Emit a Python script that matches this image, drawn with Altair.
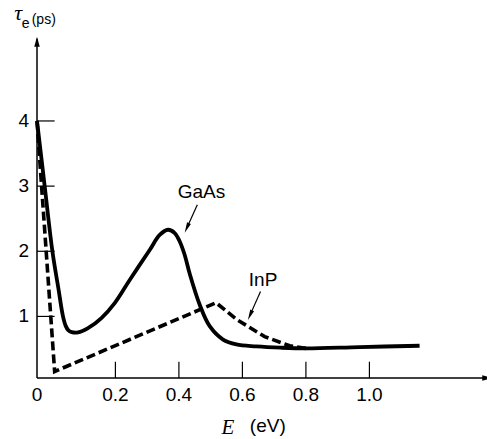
import altair as alt
import pandas as pd

# ---- data ----
gaas_E = [0.0, 0.0196, 0.0393, 0.0551, 0.0663, 0.0732, 0.0796, 0.0885, 0.1046, 0.1301,
          0.1643, 0.1982, 0.245, 0.308, 0.3395, 0.3657, 0.3868, 0.4026, 0.4178, 0.434,
          0.4655, 0.497, 0.539, 0.581, 0.644, 0.72, 0.802, 0.969, 1.158]
gaas_tau = [4.0, 3.0, 2.0, 1.41, 1.0, 0.855, 0.79, 0.76, 0.755, 0.82,
            0.975, 1.205, 1.56, 2.02, 2.25, 2.33, 2.28, 2.15, 1.95, 1.655,
            1.18, 0.85, 0.645, 0.57, 0.54, 0.52, 0.51, 0.53, 0.55]

inp_E = [0.0, 0.045, 0.517, 0.583, 0.670, 0.749, 0.80]
inp_tau = [4.0, 0.155, 1.21, 0.95, 0.69, 0.55, 0.51]

x_ticks = [0.2, 0.4, 0.6, 0.8, 1.0]
x_labels = ["0.2", "0.4", "0.6", "0.8", "1.0"]
y_ticks = [1, 2, 3, 4]
y_labels = ["1", "2", "3", "4"]

# ---- scales (schematic origin: "0" sits at the axis corner) ----
X_MIN, X_MAX = 0.0, 1.364
Y_MIN, Y_MAX = 0.055, 5.35
Y_AXIS_TOP = 5.26
W, H = 448, 345
xscale = alt.Scale(domain=[0.0, 0.2, X_MAX], range=[0, 78.4, W], zero=False, nice=False)
yscale = alt.Scale(domain=[Y_MIN, Y_MAX], zero=False, nice=False)

def X(f="E"):
    return alt.X(f"{f}:Q", scale=xscale, axis=None)

def Y(f="v"):
    return alt.Y(f"{f}:Q", scale=yscale, axis=None)

SANS = "Liberation Sans"
SERIF = "Liberation Serif"

# curves
gaas_df = pd.DataFrame({"E": gaas_E, "v": gaas_tau})
inp_df = pd.DataFrame({"E": inp_E, "v": inp_tau})

gaas = alt.Chart(gaas_df).mark_line(color="black", strokeWidth=3.8,
                                    interpolate="catmull-rom").encode(x=X(), y=Y())
inp = alt.Chart(inp_df).mark_line(color="black", strokeWidth=3.6, strokeDash=[9, 4],
                                  strokeCap="butt").encode(x=X(), y=Y())

# axes lines
xaxis_df = pd.DataFrame({"E": [X_MIN], "E2": [X_MAX], "v": [Y_MIN]})
yaxis_df = pd.DataFrame({"E": [X_MIN], "v": [Y_MIN], "v2": [Y_AXIS_TOP]})
xaxis = alt.Chart(xaxis_df).mark_rule(color="black", strokeWidth=1.5).encode(
    x=X(), x2="E2:Q", y=Y())
yaxis = alt.Chart(yaxis_df).mark_rule(color="black", strokeWidth=1.5).encode(
    x=X(), y=Y(), y2="v2:Q")

# inward ticks
xt_df = pd.DataFrame({"E": x_ticks, "v": [Y_MIN] * len(x_ticks), "v2": [0.305] * len(x_ticks)})
yt_df = pd.DataFrame({"E": [X_MIN] * len(y_ticks), "E2": [0.045] * len(y_ticks), "v": y_ticks})
xt = alt.Chart(xt_df).mark_rule(color="black", strokeWidth=1.2).encode(x=X(), y=Y(), y2="v2:Q")
yt = alt.Chart(yt_df).mark_rule(color="black", strokeWidth=1.2).encode(x=X(), x2="E2:Q", y=Y())

# tick labels
xl_df = pd.DataFrame({"E": [0.0] + x_ticks, "v": [-0.2] * (len(x_ticks) + 1),
                      "t": ["0"] + x_labels})
yl_df = pd.DataFrame({"E": [-0.034] * len(y_ticks), "v": y_ticks, "t": y_labels})
xl = alt.Chart(xl_df).mark_text(font=SANS, fontSize=19, align="center",
                                baseline="middle").encode(x=X(), y=Y(), text="t:N")
yl = alt.Chart(yl_df).mark_text(font=SANS, fontSize=19, align="center",
                                baseline="middle").encode(x=X(), y=Y(), text="t:N")

# axis titles
e_df = pd.DataFrame({"E": [0.554], "v": [-0.81], "t": ["E"]})
ev_df = pd.DataFrame({"E": [0.68], "v": [-0.78], "t": ["(eV)"]})
e_t = alt.Chart(e_df).mark_text(font=SERIF, fontStyle="italic", fontSize=21, align="center",
                                baseline="alphabetic").encode(x=X(), y=Y(), text="t:N")
ev_t = alt.Chart(ev_df).mark_text(font=SANS, fontSize=19, align="center",
                                  baseline="alphabetic").encode(x=X(), y=Y(), text="t:N")

tau_df = pd.DataFrame({"E": [-0.048], "v": [5.55], "t": ["τ"]})
sub_df = pd.DataFrame({"E": [-0.029], "v": [5.43], "t": ["e"]})
ps_df = pd.DataFrame({"E": [-0.0135], "v": [5.49], "t": ["(ps)"]})
tau_t = alt.Chart(tau_df).mark_text(font=SERIF, fontStyle="italic", fontSize=22, align="center",
                                    baseline="alphabetic").encode(x=X(), y=Y(), text="t:N")
sub_t = alt.Chart(sub_df).mark_text(font=SANS, fontSize=14, align="center",
                                    baseline="alphabetic").encode(x=X(), y=Y(), text="t:N")
ps_t = alt.Chart(ps_df).mark_text(font=SANS, fontSize=14, align="left",
                                  baseline="alphabetic").encode(x=X(), y=Y(), text="t:N")

# curve labels
lab_df = pd.DataFrame({"E": [0.471, 0.665], "v": [2.825, 1.46], "t": ["GaAs", "InP"]})
labs = alt.Chart(lab_df).mark_text(font=SANS, fontSize=19, align="center",
                                   baseline="alphabetic").encode(x=X(), y=Y(), text="t:N")

# annotation arrows
arr_df = pd.DataFrame({"E": [0.458, 0.657], "v": [2.713, 1.383],
                       "E2": [0.425, 0.624], "v2": [2.357, 1.02]})
arr = alt.Chart(arr_df).mark_rule(color="black", strokeWidth=1.2).encode(
    x=X(), y=Y(), x2="E2:Q", y2="v2:Q")

ANN_HEAD = "M0,-1L0.4,1L-0.4,1Z"
AXIS_HEAD = "M0,-1L0.55,1L-0.55,1Z"
heads_df = pd.DataFrame({"E": [0.425, 0.624], "v": [2.357, 1.02], "a": [204, 204]})
heads = alt.Chart(heads_df).mark_point(shape=ANN_HEAD, filled=True, color="black", size=110,
                                       opacity=1, strokeWidth=0).encode(
    x=X(), y=Y(), angle=alt.Angle("a:Q", scale=None))
axheads_df = pd.DataFrame({"E": [0.0, 1.371], "v": [5.215, Y_MIN], "a": [0, 90]})
axheads = alt.Chart(axheads_df).mark_point(shape=AXIS_HEAD, filled=True, color="black",
                                           size=100, opacity=1, strokeWidth=0).encode(
    x=X(), y=Y(), angle=alt.Angle("a:Q", scale=None))

chart = alt.layer(xaxis, yaxis, xt, yt, xl, yl, e_t, ev_t, tau_t, sub_t, ps_t,
                  gaas, inp, labs, arr, heads, axheads).properties(
    width=W, height=H,
    autosize=alt.AutoSizeParams(type="none"),
    padding={"left": 37, "top": 33, "right": 2, "bottom": 61},
).configure_view(stroke=None)

chart.save("out.html", embed_options={"renderer": "svg", "actions": False})
